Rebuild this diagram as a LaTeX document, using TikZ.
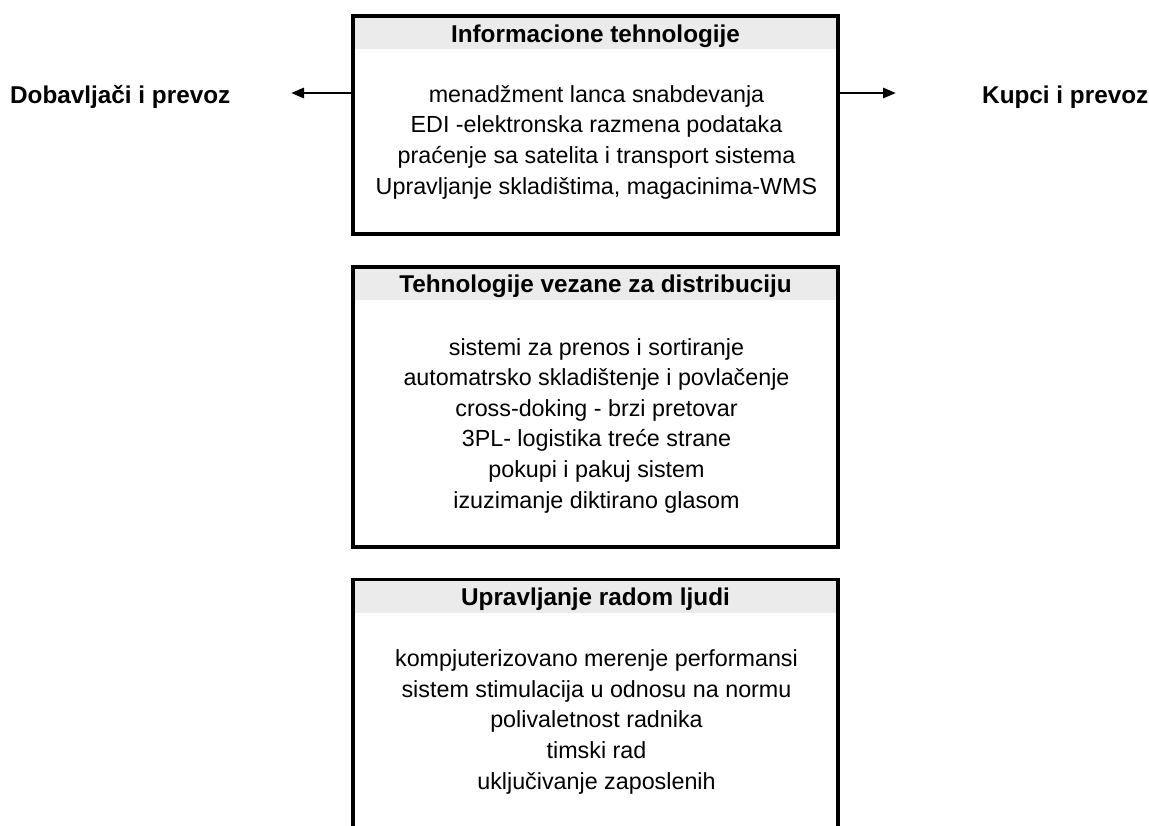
\documentclass[tikz,border=0pt]{standalone}
\usepackage{fontspec}
\setmainfont{Liberation Sans}
\usetikzlibrary{arrows.meta}
\definecolor{hdrgray}{HTML}{EBEBEB}
\begin{document}
\begin{tikzpicture}[x=1pt,y=-1pt,
  boxshape/.style={rectangle, draw=none, inner sep=0pt, outer sep=0pt, minimum width=485pt},
  boxframe/.style={draw=black, line width=3.5pt},
  hdrband/.style={fill=hdrgray},
  hdr/.style={font=\fontsize{24.3}{29}\selectfont\bfseries, anchor=base, inner sep=0pt},
  body/.style={font=\fontsize{23.3}{30.6}\selectfont, align=center, anchor=base, inner sep=0pt},
  side/.style={font=\fontsize{24.3}{29}\selectfont\bfseries, anchor=base west, inner sep=0pt},
  arr/.style={line width=2.8pt, -{Triangle[length=13pt,width=10pt]}}
]
\useasboundingbox (0,0) rectangle (1149,825);
\clip (0,0) rectangle (1149,825);

% box geometry
\node[boxshape, minimum height=218pt] (b1) at (595.5,125) {};
\node[boxshape, minimum height=280pt] (b2) at (595.5,407) {};
\node[boxshape, minimum height=290.5pt] (b3) at (595.5,724.75) {};

% header bands
\fill[hdrband] (b1.north west) rectangle ([yshift=-32.5pt]b1.north east);
\fill[hdrband] (b2.north west) rectangle ([yshift=-32.5pt]b2.north east);
\fill[hdrband] (b3.north west) rectangle ([yshift=-33pt]b3.north east);

% frames
\draw[boxframe] (b1.north west) rectangle (b1.south east);
\draw[boxframe] (b2.north west) rectangle (b2.south east);
\draw[boxframe] (b3.north west) rectangle (b3.south east);

% headers
\node[hdr] (h1) at ([yshift=-26pt]b1.north) {Informacione tehnologije};
\node[hdr] (h2) at ([yshift=-25pt]b2.north) {Tehnologije vezane za distribuciju};
\node[hdr] (h3) at ([yshift=-25.5pt]b3.north) {Upravljanje radom ljudi};

% bodies (anchor base = baseline of the last line)
\node[body] (t1) at ([xshift=1pt,yshift=-178pt]b1.north) {menadžment lanca snabdevanja\\EDI -elektronska razmena podataka\\praćenje sa satelita i transport sistema\\Upravljanje skladištima, magacinima-WMS};
\node[body] (t2) at ([xshift=1pt,yshift=-241pt]b2.north) {sistemi za prenos i sortiranje\\automatrsko skladištenje i povlačenje\\cross-doking - brzi pretovar\\3PL- logistika treće strane\\pokupi i pakuj sistem\\izuzimanje diktirano glasom};
\node[body] (t3) at ([xshift=1pt,yshift=-209.5pt]b3.north) {kompjuterizovano merenje performansi\\sistem stimulacija u odnosu na normu\\polivaletnost radnika\\timski rad\\uključivanje zaposlenih};

% side labels
\node[side] (dob) at (10,103) {Dobavljači i prevoz};
\node[side] (kup) at (982,103) {Kupci i prevoz};

% arrows
\coordinate (lt) at (291,93);
\coordinate (rt) at (896,93);
\draw[arr] (b1.west |- lt) -- (lt);
\draw[arr] (b1.east |- rt) -- (rt);
\end{tikzpicture}
\end{document}
